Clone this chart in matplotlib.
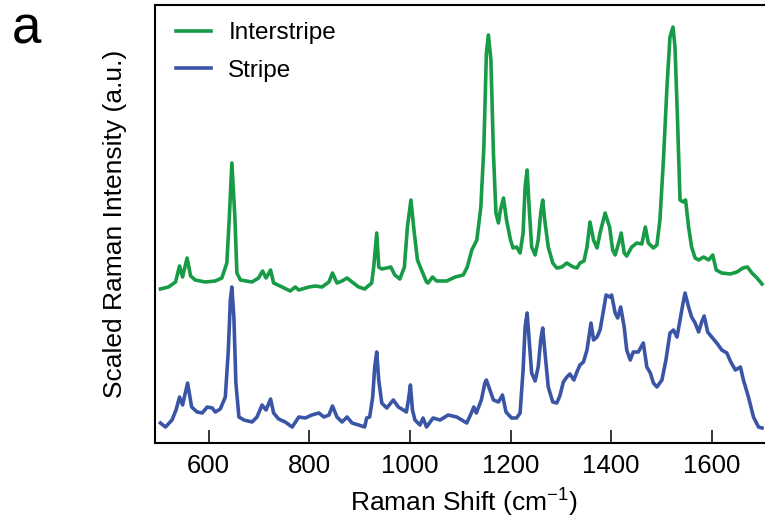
import matplotlib
matplotlib.use("Agg")
import matplotlib.pyplot as plt

plt.rcParams['font.family'] = ['Liberation Sans', 'DejaVu Sans']
plt.rcParams['mathtext.fontset'] = 'custom'
plt.rcParams['mathtext.rm'] = 'Liberation Sans'
plt.rcParams['mathtext.it'] = 'Liberation Sans'

# Raman shift (cm^-1) and scaled intensity (offset, a.u.)
inter_shift = [504, 520, 534, 542, 548, 557, 564, 573, 593, 613, 626, 636, 641, 646, 652, 656, 663,
               686, 699, 707, 714, 723, 729, 746, 762, 772, 779, 799, 812, 825, 839, 846, 855, 865,
               875, 885, 898, 910, 924, 928, 934, 938, 944, 954, 962, 970, 980, 989, 995, 1002,
               1008, 1015, 1023, 1033, 1036, 1045, 1053, 1073, 1090, 1106, 1114, 1123, 1133, 1141,
               1147, 1152, 1156, 1161, 1166, 1171, 1176, 1180, 1186, 1192, 1200, 1205, 1212, 1219,
               1225, 1229, 1233, 1237, 1242, 1249, 1255, 1260, 1264, 1268, 1275, 1284, 1292, 1302,
               1312, 1318, 1325, 1332, 1338, 1346, 1352, 1358, 1365, 1372, 1378, 1388, 1397, 1403,
               1408, 1415, 1420, 1426, 1431, 1441, 1451, 1461, 1468, 1474, 1484, 1491, 1497, 1504,
               1511, 1517, 1523, 1527, 1532, 1537, 1543, 1548, 1554, 1560, 1567, 1574, 1584, 1594,
               1602, 1609, 1620, 1637, 1650, 1662, 1671, 1680, 1690, 1700]
inter_int = [154, 156, 161, 177, 166, 185, 167, 163, 161, 162, 165, 180, 226, 280, 226, 170, 163,
             161, 165, 172, 165, 173, 160, 156, 152, 156, 153, 156, 157, 156, 161, 170, 160, 162,
             165, 161, 156, 154, 160, 176, 210, 176, 174, 175, 176, 168, 164, 176, 216, 243,
             213, 183, 173, 161, 160, 166, 162, 162, 166, 168, 176, 193, 203, 236,
             296, 390, 408, 383, 290, 230, 220, 233, 245, 223, 203, 195, 196, 190,
             210, 256, 273, 236, 196, 188, 203, 230, 243, 223, 196, 180, 175, 176,
             180, 178, 176, 175, 180, 182, 196, 221, 203, 195, 210, 230, 216, 193,
             188, 200, 210, 190, 187, 196, 200, 199, 216, 200, 195, 198, 223, 283,
             356, 406, 416, 396, 323, 243, 241, 243, 216, 196, 185, 183, 186, 183,
             188, 173, 170, 169, 171, 175, 176, 170, 165, 159]

stripe_shift = [504, 514, 527, 535, 542, 548, 558, 566, 577, 587, 597, 607, 613, 623, 633, 639, 643,
                646, 650, 654, 660, 670, 686, 696, 706, 714, 723, 729, 739, 752, 766, 779, 792, 805,
                819, 829, 839, 846, 855, 865, 875, 885, 898, 910, 914, 920, 926, 930, 934, 938, 944,
                954, 967, 977, 987, 993, 997, 1001, 1005, 1010, 1020, 1026, 1033, 1046, 1060, 1076,
                1093, 1113, 1123, 1127, 1132, 1142, 1149, 1152, 1159, 1166, 1176, 1184, 1191, 1202,
                1212, 1219, 1225, 1229, 1233, 1237, 1242, 1249, 1255, 1260, 1264, 1268, 1275, 1284,
                1292, 1298, 1305, 1312, 1318, 1326, 1332, 1338, 1345, 1352, 1357, 1360, 1365, 1372,
                1378, 1385, 1390, 1397, 1401, 1408, 1413, 1419, 1426, 1431, 1438, 1444, 1454, 1464,
                1471, 1478, 1484, 1491, 1501, 1509, 1517, 1524, 1531, 1537, 1543, 1547, 1554, 1560,
                1567, 1574, 1580, 1585, 1592, 1600, 1610, 1620, 1630, 1638, 1647, 1657, 1663, 1673,
                1683, 1693, 1700]
stripe_int = [20, 16, 23, 33, 46, 38, 60, 36, 31, 30, 36, 35, 31, 34, 46, 93, 143,
              156, 126, 60, 26, 23, 21, 26, 38, 33, 44, 30, 24, 21, 16, 26, 25, 28,
              30, 26, 28, 37, 26, 21, 26, 20, 18, 16, 25, 26, 46, 76, 91, 63, 40,
              35, 43, 36, 33, 31, 43, 58, 33, 23, 18, 25, 16, 25, 23, 28,
              26, 20, 31, 36, 30, 43, 60, 63, 53, 43, 41, 48, 31, 25,
              25, 30, 73, 116, 130, 103, 70, 62, 76, 103, 115, 93, 56, 41,
              40, 47, 61, 66, 69, 63, 71, 78, 81, 93, 110, 120, 103, 106,
              113, 133, 148, 146, 148, 130, 125, 136, 116, 93, 83, 91, 91, 100,
              76, 70, 60, 56, 63, 83, 110, 113, 106, 123, 140, 150, 136, 126,
              120, 111, 121, 127, 111, 106, 100, 93, 90, 81, 73, 76, 63, 46,
              26, 16, 15]

series_labels = ['Interstripe', 'Stripe']
series_colors = ['#179b47', '#3a55a6']
x_ticks = [600, 800, 1000, 1200, 1400, 1600]

W, H = 765, 523
fig = plt.figure(figsize=(W / 100, H / 100), dpi=100)
left_px, bottom_px, top_px = 154.7, 443, 5
xmin, xmax = 492.6, 1720
px_per_unit = 0.503
ax = fig.add_axes([left_px / W, (H - bottom_px) / H,
                   (xmax - xmin) * px_per_unit / W, (bottom_px - top_px) / H])

ax.plot(inter_shift, inter_int, color=series_colors[0], lw=2.6, label=series_labels[0],
        solid_joinstyle='round')
ax.plot(stripe_shift, stripe_int, color=series_colors[1], lw=2.6, label=series_labels[1],
        solid_joinstyle='round')

ax.set_xlim(xmin, xmax)
ax.set_ylim(0, bottom_px - top_px)
ax.set_xticks(x_ticks)
ax.set_yticks([])
ax.tick_params(axis='x', direction='in', length=9.5, width=1.1, labelsize=18.5, pad=8)
for s in ax.spines.values():
    s.set_linewidth(1.5)

ax.set_xlabel('Raman Shift (cm$^{-1}$)', fontsize=19, labelpad=6)
ax.set_ylabel('Scaled Raman Intensity (a.u.)', fontsize=19, labelpad=20)

fig.text(12 / W, 1 - 44 / H, 'a', fontsize=38, ha='left', va='baseline')

ax.legend(loc='upper left', bbox_to_anchor=(176 / W, 1 - 22 / H), bbox_transform=fig.transFigure,
          frameon=False, fontsize=17.5, handlelength=1.45, handletextpad=0.7, labelspacing=0.65,
          borderaxespad=0, borderpad=0)

fig.savefig('out.png', dpi=100)
